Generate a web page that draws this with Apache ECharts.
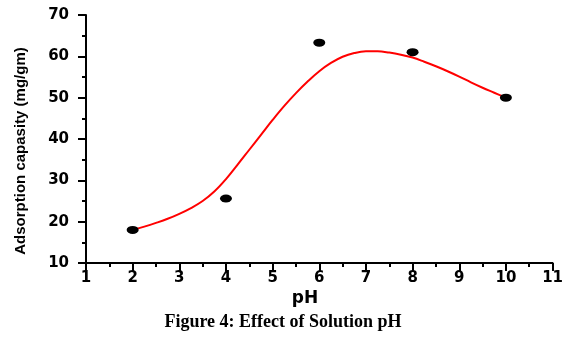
<!DOCTYPE html>
<html><head><meta charset="utf-8">
<script src="https://cdn.jsdelivr.net/npm/echarts@6/dist/echarts.min.js"></script>
<style>html,body{margin:0;padding:0;background:#fff}#c{width:566px;height:347px}</style>
</head><body><div id="c"></div>
<script>
// Measured points
const phValues = [2, 4, 6, 8, 10];
const capacity = [18, 25.6, 63.3, 61.0, 50];
// Fitted curve (red)
const fitX = [2, 2.25, 2.5, 2.75, 3, 3.25, 3.5, 3.75, 4, 4.25, 4.5, 4.75, 5, 5.25, 5.5, 5.75, 6, 6.25, 6.5, 6.75, 7, 7.25, 7.5, 7.75, 8, 8.25, 8.5, 8.75, 9, 9.25, 9.5, 9.75, 10];
const fitY = [18, 18.8, 19.7, 20.7, 21.9, 23.3, 25.0, 27.3, 30.3, 33.8, 37.4, 41.0, 44.6, 48.0, 51.1, 53.9, 56.4, 58.4, 59.9, 60.8, 61.2, 61.2, 60.9, 60.4, 59.7, 58.7, 57.6, 56.4, 55.1, 53.7, 52.4, 51.2, 50];
const xTicks = [1, 11, 1];   // min, max, interval
const yTicks = [10, 70, 10];

const chart = echarts.init(document.getElementById('c'), null, {renderer: 'canvas'});
const tickFont = {fontFamily: 'DejaVu Sans', fontWeight: 'bold', fontSize: 15, color: '#000'};
const ellipse = 'path://M0 4A6 4 0 1 0 12 4A6 4 0 1 0 0 4Z';
chart.setOption({
  animation: false,
  backgroundColor: '#fff',
  grid: {left: 86, right: 13, top: 15, bottom: 84},
  xAxis: {
    type: 'value', min: xTicks[0], max: xTicks[1], interval: xTicks[2],
    axisLine: {show: true, lineStyle: {color: '#000', width: 2}},
    axisTick: {show: true, length: 8, lineStyle: {color: '#000', width: 2}},
    minorTick: {show: true, splitNumber: 2, length: 4, lineStyle: {color: '#000', width: 2}},
    splitLine: {show: false},
    axisLabel: Object.assign({margin: 8}, tickFont)
  },
  yAxis: {
    type: 'value', min: yTicks[0], max: yTicks[1], interval: yTicks[2],
    axisLine: {show: true, lineStyle: {color: '#000', width: 2}},
    axisTick: {show: true, length: 8, lineStyle: {color: '#000', width: 2}},
    minorTick: {show: true, splitNumber: 2, length: 4, lineStyle: {color: '#000', width: 2}},
    splitLine: {show: false},
    axisLabel: Object.assign({margin: 17}, tickFont)
  },
  series: [
    {
      type: 'line', smooth: 0.4, symbol: 'none',
      data: fitX.map((x, i) => [x, fitY[i]]),
      lineStyle: {color: '#ff0000', width: 2}, z: 2
    },
    {
      type: 'scatter', symbol: ellipse, symbolSize: [12, 8],
      data: phValues.map((x, i) => [x, capacity[i]]),
      itemStyle: {color: '#000', opacity: 1}, z: 3
    }
  ],
  graphic: [
    {type: 'text', x: 21, y: 151, rotation: Math.PI / 2,
     style: {text: 'Adsorption capasity (mg/gm)', font: 'bold 15px "Liberation Sans"', fill: '#000', align: 'center', verticalAlign: 'middle'}},
    {type: 'text', x: 305, y: 299,
     style: {text: 'pH', font: 'bold 17px "DejaVu Sans"', fill: '#000', align: 'center', verticalAlign: 'middle'}},
    {type: 'text', x: 283, y: 322,
     style: {text: 'Figure 4: Effect of Solution pH', font: 'bold 18px "Liberation Serif"', fill: '#000', align: 'center', verticalAlign: 'middle'}}
  ]
});
</script>
</body></html>
